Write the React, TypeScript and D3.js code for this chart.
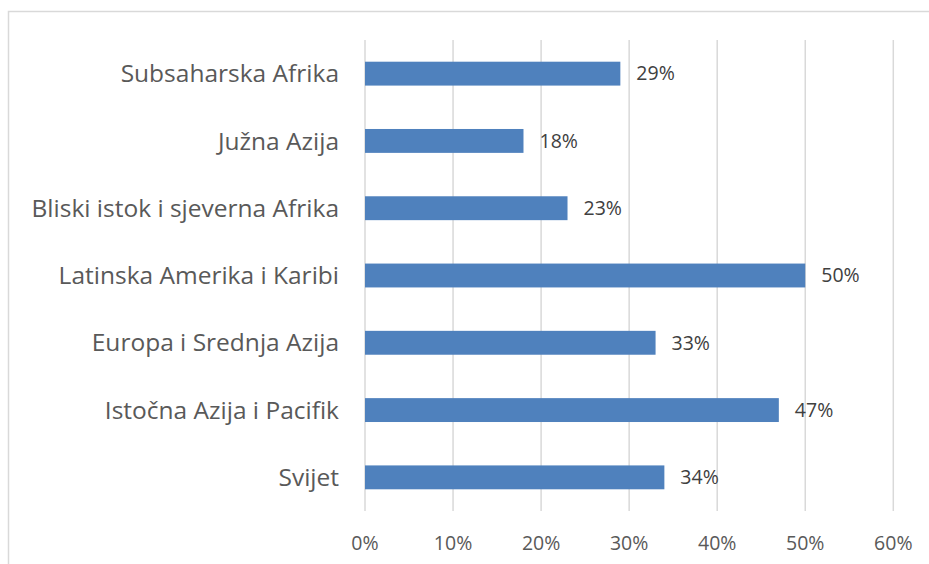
import { useEffect, useRef } from 'react';
import * as d3 from 'd3';

const categories = [
  'Subsaharska Afrika',
  'Južna Azija',
  'Bliski istok i sjeverna Afrika',
  'Latinska Amerika i Karibi',
  'Europa i Srednja Azija',
  'Istočna Azija i Pacifik',
  'Svijet',
];
const values = [29, 18, 23, 50, 33, 47, 34];
const ticks = [0, 10, 20, 30, 40, 50, 60];

const WIDTH = 929;
const HEIGHT = 564;
const FONT = '"Open Sans", sans-serif';

export default function App() {
  const svgRef = useRef<SVGSVGElement>(null);

  useEffect(() => {
    if (!svgRef.current) return;
    const svg = d3.select(svgRef.current);
    svg.selectAll('*').remove();

    // chart border
    svg
      .append('rect')
      .attr('x', 8.5)
      .attr('y', 11.5)
      .attr('width', WIDTH + 20)
      .attr('height', HEIGHT + 20)
      .attr('fill', '#fff')
      .attr('stroke', '#d9d9d9')
      .attr('stroke-width', 1.5);

    const x = d3.scaleLinear().domain([0, 60]).range([365, 893.3]);
    const y = d3
      .scaleBand<string>()
      .domain(categories)
      .range([40, 511])
      .paddingInner(0.645)
      .paddingOuter(0.3225);

    // gridlines
    svg
      .append('g')
      .selectAll('line')
      .data(ticks)
      .enter()
      .append('line')
      .attr('x1', (d) => x(d))
      .attr('x2', (d) => x(d))
      .attr('y1', 40)
      .attr('y2', 511)
      .attr('stroke', '#d9d9d9')
      .attr('stroke-width', 1.5);

    // bars
    svg
      .append('g')
      .selectAll('rect')
      .data(values)
      .enter()
      .append('rect')
      .attr('x', x(0))
      .attr('y', (_, i) => y(categories[i])!)
      .attr('width', (d) => x(d) - x(0))
      .attr('height', y.bandwidth())
      .attr('fill', '#4f81bd');

    // value labels
    svg
      .append('g')
      .selectAll('text')
      .data(values)
      .enter()
      .append('text')
      .attr('x', (d) => x(d) + 16)
      .attr('y', (_, i) => y(categories[i])! + y.bandwidth() / 2)
      .attr('dy', '0.35em')
      .attr('font-family', FONT)
      .attr('font-size', 19.5)
      .attr('fill', '#404040')
      .text((d) => `${d}%`);

    // category labels
    svg
      .append('g')
      .selectAll('text')
      .data(categories)
      .enter()
      .append('text')
      .attr('x', 339)
      .attr('y', (d) => y(d)! + y.bandwidth() / 2)
      .attr('dy', '0.35em')
      .attr('text-anchor', 'end')
      .attr('font-family', FONT)
      .attr('font-size', 24.5)
      .attr('fill', '#595959')
      .text((d) => d);

    // x tick labels
    svg
      .append('g')
      .selectAll('text')
      .data(ticks)
      .enter()
      .append('text')
      .attr('x', (d) => x(d))
      .attr('y', 543)
      .attr('dy', '0.35em')
      .attr('text-anchor', 'middle')
      .attr('font-family', FONT)
      .attr('font-size', 19.5)
      .attr('fill', '#595959')
      .text((d) => `${d}%`);
  }, []);

  return (
    <svg
      ref={svgRef}
      width={WIDTH}
      height={HEIGHT}
      style={{ position: 'absolute', left: 0, top: 0, display: 'block' }}
    />
  );
}
